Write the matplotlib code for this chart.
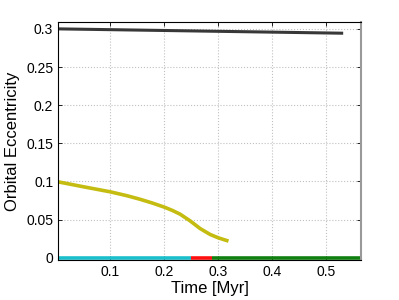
import matplotlib
matplotlib.use("Agg")
import matplotlib.pyplot as plt
import numpy as np

plt.rcParams['font.family'] = ['Liberation Sans', 'DejaVu Sans']

# outer planet, nearly constant eccentricity
t_outer = [0.003, 0.531]
e_outer = [0.300, 0.2943]

# inner planet, eccentricity decaying
t_inner = [0.003, 0.05, 0.0995, 0.13, 0.155, 0.178, 0.201, 0.215, 0.229,
           0.2476, 0.257, 0.266, 0.2846, 0.300, 0.3155]
e_inner = [0.0995, 0.093, 0.0864, 0.0814, 0.0766, 0.0716, 0.0660, 0.0619, 0.0571,
           0.0483, 0.0432, 0.0383, 0.0305, 0.026, 0.0225]

# phases along e = 0
phase_t = [(0.003, 0.249), (0.249, 0.289), (0.289, 0.564)]
phase_col = ['#1bbfcc', '#ff1010', '#108010']

fig = plt.figure(figsize=(3.99, 3.0), dpi=100)
ax = fig.add_axes([58/399, 40/300, 303/399, 238/300])

ax.plot(t_outer, e_outer, color='#383838', lw=2.2, solid_capstyle='butt')
ax.plot(t_inner, e_inner, color='#c4bc10', lw=2.6)
for (a, b), c in zip(phase_t, phase_col):
    ax.plot([a, b], [0, 0], color=c, lw=2.6, solid_capstyle='butt')

ax.set_xlim(0.003, 0.564)
ax.set_ylim(-0.003, 0.309)
ax.set_xticks([0.1, 0.2, 0.3, 0.4, 0.5])
ax.set_xticklabels(['0.1', '0.2', '0.3', '0.4', '0.5'])
ax.set_yticks([0, 0.05, 0.1, 0.15, 0.2, 0.25, 0.3])
ax.set_yticklabels(['0', '0.05', '0.1', '0.15', '0.2', '0.25', '0.3'])
ax.tick_params(direction='in', top=True, right=True, labelsize=10, length=3, width=0.6)
ax.grid(True, linestyle=':', color='#c0c0c0', lw=0.8)
for s in ax.spines.values():
    s.set_linewidth(0.8)
ax.spines['right'].set_color('#999999')
ax.spines['right'].set_linewidth(1.5)

ax.set_xlabel('Time [Myr]', fontsize=12, labelpad=1.5)
ax.set_ylabel('Orbital Eccentricity', fontsize=12, labelpad=4)

fig.savefig('out.png', dpi=100)
